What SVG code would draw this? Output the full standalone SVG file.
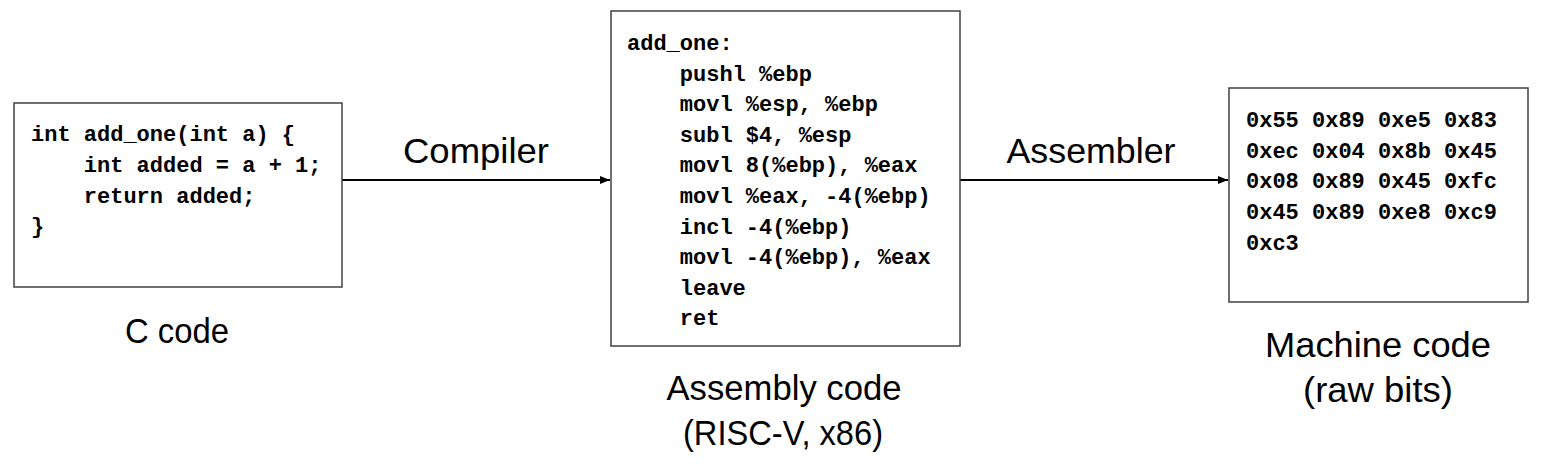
<svg xmlns="http://www.w3.org/2000/svg" width="1554" height="471" viewBox="0 0 1554 471">
<style>
.box{fill:#fff;stroke:#404040;stroke-width:1.5}
.code{font-family:"Liberation Mono","DejaVu Sans Mono",monospace;font-weight:bold;font-size:22px;fill:#000}
.lbl{font-family:"Liberation Sans",Arial,sans-serif;font-size:35px;fill:#000;text-anchor:middle}
.conn{stroke:#000;stroke-width:2;fill:none}
</style>
<defs>
<marker id="ah" markerWidth="10" markerHeight="8" refX="10" refY="4" orient="auto" markerUnits="userSpaceOnUse">
<path d="M0,0 L10,4 L0,8 z" fill="#000"/>
</marker>
</defs>
<rect width="1554" height="471" fill="#fff"/>
<g id="connectors">
<line class="conn" x1="342" y1="180" x2="610" y2="180" marker-end="url(#ah)"/>
<line class="conn" x1="960" y1="180" x2="1228" y2="180" marker-end="url(#ah)"/>
<text class="lbl" x="476" y="163" textLength="146" lengthAdjust="spacingAndGlyphs">Compiler</text>
<text class="lbl" x="1091" y="163" textLength="169" lengthAdjust="spacingAndGlyphs">Assembler</text>
</g>
<g id="c-code">
<rect class="box" x="14" y="103" width="328" height="184"/>
<text class="code" x="31" y="141">int add_one(int a) {</text>
<text class="code" x="31" y="172" xml:space="preserve">    int added = a + 1;</text>
<text class="code" x="31" y="203" xml:space="preserve">    return added;</text>
<text class="code" x="31" y="233">}</text>
<text class="lbl" x="177" y="343" textLength="104" lengthAdjust="spacingAndGlyphs">C code</text>
</g>
<g id="assembly-code">
<rect class="box" x="611" y="11" width="349" height="335"/>
<text class="code" x="627" y="50">add_one:</text>
<text class="code" x="627" y="80.6" xml:space="preserve">    pushl %ebp</text>
<text class="code" x="627" y="111.2" xml:space="preserve">    movl %esp, %ebp</text>
<text class="code" x="627" y="141.8" xml:space="preserve">    subl $4, %esp</text>
<text class="code" x="627" y="172.4" xml:space="preserve">    movl 8(%ebp), %eax</text>
<text class="code" x="627" y="203" xml:space="preserve">    movl %eax, -4(%ebp)</text>
<text class="code" x="627" y="233.6" xml:space="preserve">    incl -4(%ebp)</text>
<text class="code" x="627" y="264.2" xml:space="preserve">    movl -4(%ebp), %eax</text>
<text class="code" x="627" y="294.8" xml:space="preserve">    leave</text>
<text class="code" x="627" y="325.4" xml:space="preserve">    ret</text>
<text class="lbl" x="784" y="400" textLength="235" lengthAdjust="spacingAndGlyphs">Assembly code</text>
<text class="lbl" x="783" y="445" textLength="200" lengthAdjust="spacingAndGlyphs">(RISC-V, x86)</text>
</g>
<g id="machine-code">
<rect class="box" x="1229" y="88" width="299" height="214"/>
<text class="code" x="1246" y="127">0x55 0x89 0xe5 0x83</text>
<text class="code" x="1246" y="157.7">0xec 0x04 0x8b 0x45</text>
<text class="code" x="1246" y="188.4">0x08 0x89 0x45 0xfc</text>
<text class="code" x="1246" y="219.1">0x45 0x89 0xe8 0xc9</text>
<text class="code" x="1246" y="249.8">0xc3</text>
<text class="lbl" x="1378" y="357" textLength="226" lengthAdjust="spacingAndGlyphs">Machine code</text>
<text class="lbl" x="1378" y="402" textLength="150" lengthAdjust="spacingAndGlyphs">(raw bits)</text>
</g>
</svg>
